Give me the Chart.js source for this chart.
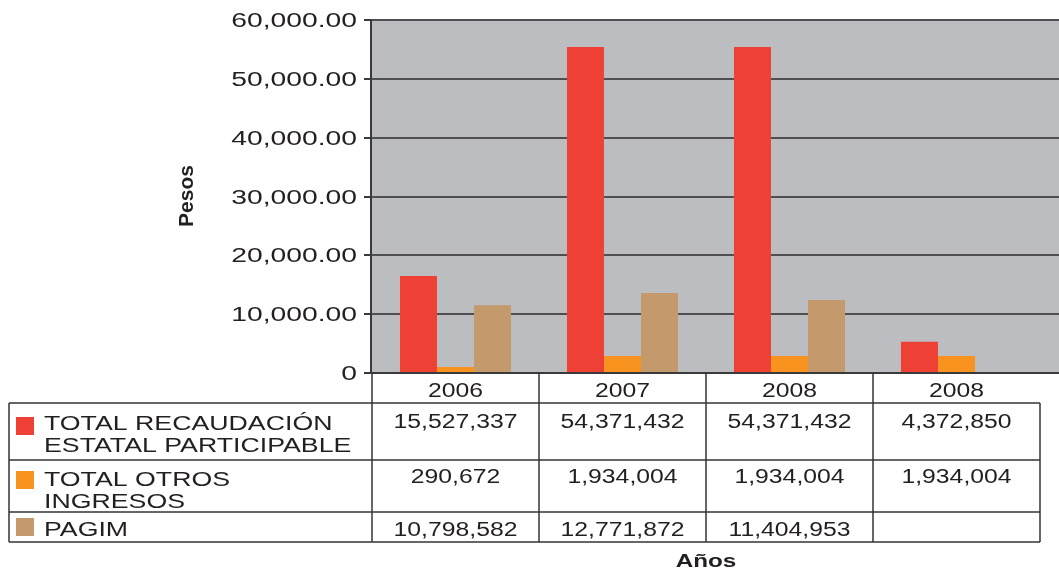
<!DOCTYPE html>
<html>
<head>
<meta charset="utf-8">
<script src="https://cdn.jsdelivr.net/npm/chart.js@4"></script>
<style>
  html, body { margin: 0; padding: 0; background: #fff; }
  canvas { display: block; }
</style>
</head>
<body>
<canvas id="chart" width="1059" height="569"></canvas>
<script>
const years = ["2006", "2007", "2008", "2008"];
// bar heights
const recaudacion = [16500, 55400, 55400, 5300];
const otros = [1000, 2900, 2900, 2900];
const pagim = [11500, 13600, 12400, null];
// numbers printed in the data table
const tblRecaudacion = [15527337, 54371432, 54371432, 4372850];
const tblOtros = [290672, 1934004, 1934004, 1934004];
const tblPagim = [10798582, 12771872, 11404953, null];
const seriesNames = [["TOTAL RECAUDACIÓN", "ESTATAL PARTICIPABLE"], ["TOTAL OTROS", "INGRESOS"], ["PAGIM"]];
const colors = ["#ef4036", "#f7931e", "#c49a6c"];
const yTicks = [0, 10000, 20000, 30000, 40000, 50000, 60000];

const FONT = "'Liberation Sans', Arial, sans-serif";
const INK = "#231f20";

function txt(ctx, s, x, y, size, align, sx, bold) {
  ctx.save();
  ctx.font = (bold ? "bold " : "") + size + "px " + FONT;
  ctx.fillStyle = INK;
  ctx.textAlign = align;
  ctx.textBaseline = "alphabetic";
  ctx.translate(x, y);
  ctx.scale(sx, 1);
  ctx.fillText(s, 0, 0);
  ctx.restore();
}

function line(ctx, x1, y1, x2, y2) {
  ctx.beginPath();
  ctx.moveTo(x1, y1);
  ctx.lineTo(x2, y2);
  ctx.stroke();
}

const fmtTick = v => v === 0 ? "0" : v.toLocaleString("en-US", { minimumFractionDigits: 2 });

const tablePlugin = {
  id: "tablePlugin",
  beforeDatasetsDraw(chart) {
    const { ctx, chartArea: a, scales: { y } } = chart;
    const W = chart.width;
    ctx.save();
    ctx.fillStyle = "#bcbdc1";
    ctx.fillRect(a.left, a.top, W - a.left, a.bottom - a.top);
    ctx.strokeStyle = "#4f4f51";
    ctx.lineWidth = 2;
    yTicks.forEach(v => {
      if (v === 0) return;
      const py = Math.round(y.getPixelForValue(v));
      line(ctx, a.left, py, W, py);
    });
    ctx.restore();
  },
  afterDraw(chart) {
    const { ctx, chartArea: a, scales: { x, y } } = chart;
    const W = chart.width;
    ctx.save();
    // axes
    ctx.strokeStyle = "#3a3a3c";
    ctx.lineWidth = 2;
    line(ctx, a.left - 1, a.top - 1, a.left - 1, a.bottom + 1);
    line(ctx, a.left - 1, a.bottom, W, a.bottom);
    yTicks.forEach(v => {
      const py = Math.round(y.getPixelForValue(v));
      line(ctx, a.left - 8, py, a.left, py);
      txt(ctx, fmtTick(v), a.left - 15, py + 7, 19.5, "right", 1.45);
    });

    // table
    const cw = x.getPixelForValue(1) - x.getPixelForValue(0);
    const edges = years.map((_, i) => x.getPixelForValue(i) - cw / 2);
    edges.push(x.getPixelForValue(years.length - 1) + cw / 2);
    const tLeft = 9, rows = [403, 460, 512, 542];
    const right = edges[edges.length - 1];
    ctx.strokeStyle = "#333";
    ctx.lineWidth = 1.5;
    rows.forEach(r => line(ctx, tLeft, r, right, r));
    line(ctx, tLeft, rows[0], tLeft, rows[3]);
    edges.forEach((ex, i) => {
      const top = i === edges.length - 1 ? rows[0] : a.bottom;
      line(ctx, ex, top, ex, rows[3]);
    });

    years.forEach((yr, i) => {
      txt(ctx, yr, x.getPixelForValue(i), 397, 19.5, "center", 1.27);
    });

    const tblVals = [tblRecaudacion, tblOtros, tblPagim];
    const sqTop = [417, 471, 518];
    const labelBase = [430, 486, 536];
    const valBase = [428, 483, 536];
    tblVals.forEach((vals, r) => {
      ctx.fillStyle = colors[r];
      ctx.fillRect(16, sqTop[r], 18, 18);
      seriesNames[r].forEach((s, k) => {
        txt(ctx, s, 44, labelBase[r] + k * 22, 19.5, "left", 1.37);
      });
      vals.forEach((v, i) => {
        if (v == null) return;
        txt(ctx, v.toLocaleString("en-US"), x.getPixelForValue(i), valBase[r], 19.5, "center", 1.27);
      });
    });

    // axis titles
    ctx.save();
    ctx.translate(193, 196);
    ctx.rotate(-Math.PI / 2);
    txt(ctx, "Pesos", 0, 0, 21, "center", 1.0, true);
    ctx.restore();
    txt(ctx, "Años", 706, 567, 18, "center", 1.35, true);
    ctx.restore();
  }
};

new Chart(document.getElementById("chart"), {
  type: "bar",
  data: {
    labels: years,
    datasets: [
      { label: seriesNames[0].join(" "), data: recaudacion, backgroundColor: colors[0] },
      { label: seriesNames[1].join(" "), data: otros, backgroundColor: colors[1] },
      { label: seriesNames[2].join(" "), data: pagim, backgroundColor: colors[2] }
    ]
  },
  options: {
    responsive: false,
    animation: false,
    layout: { padding: { left: 372, right: 19, top: 20, bottom: 196 } },
    datasets: { bar: { barPercentage: 1, categoryPercentage: 0.665 } },
    plugins: { legend: { display: false }, tooltip: { enabled: false } },
    scales: {
      x: { display: false },
      y: { display: false, min: 0, max: 60000, ticks: { stepSize: 10000 } }
    }
  },
  plugins: [tablePlugin]
});
</script>
</body>
</html>
